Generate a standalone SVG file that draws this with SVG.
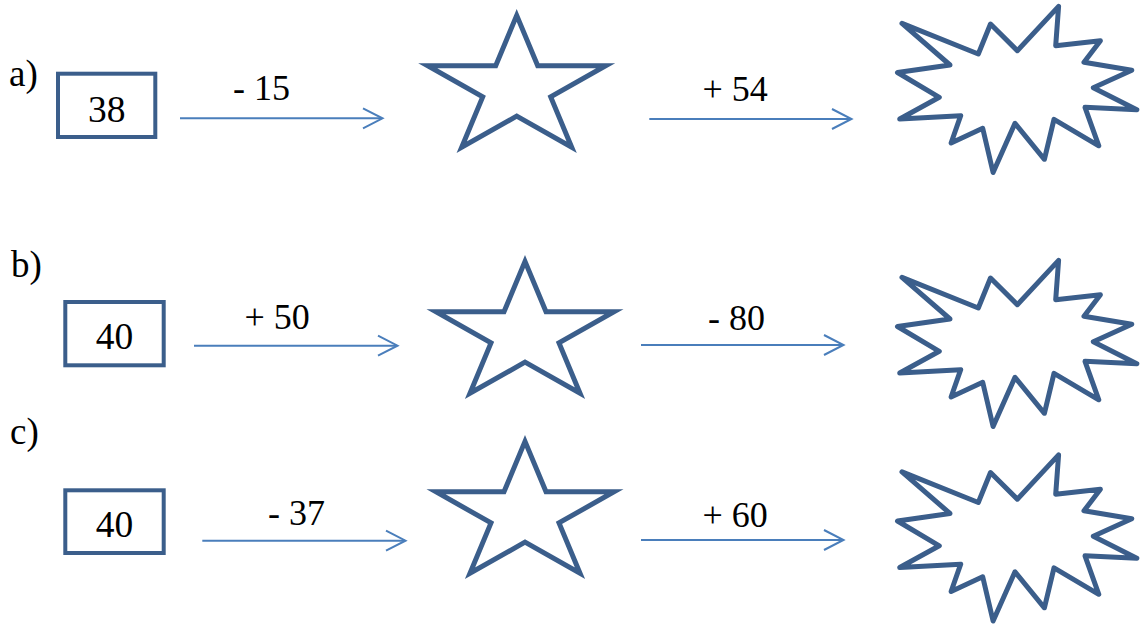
<svg xmlns="http://www.w3.org/2000/svg" width="1143" height="627" viewBox="0 0 1143 627">
<style>
  text{font-family:'Liberation Serif','Times New Roman',Times,serif;fill:#000}
  .lbl{font-size:37px}
  .num{font-size:37.5px}
  .op{font-size:36px}
  .box{fill:#fff;stroke:#3b5e8b;stroke-width:4}
  .shape{fill:#fff;stroke:#3b5e8b;stroke-width:5}
  .conn line{stroke:#4a7ebb;stroke-width:2}
  .conn path{fill:none;stroke:#4a7ebb;stroke-width:2}
</style>
<defs>
  <path id="star" d="M0,-72.9 L21,-22.5 L89,-22.5 L34,8.6 L55,59 L0,27.85 L-55,59 L-34,8.6 L-89,-22.5 L-21,-22.5 Z" class="shape" stroke-linejoin="miter"/>
  <path id="boom" class="shape" stroke-linejoin="round" d="M902,23.4 L978.3,54 L990.5,24 L1017.3,50.7 L1058.6,6.4 L1055.7,45.7 L1100.4,40.7 L1084,62.3 L1131.8,70.2 L1093.3,87.7 L1136.8,109.8 L1085,107.3 L1098.8,145.8 L1054,119.3 L1044.4,159.3 L1015,123.3 L993.1,172.5 L982.7,128.3 L951.1,143 L960.7,115.7 L899.7,119 L939.3,97.3 L897.5,72.5 L950,65 Z"/>
</defs>

<g id="row-a">
  <text class="lbl" x="9" y="86">a)</text>
  <g id="box-a"><rect class="box" x="58" y="73.7" width="97.3" height="63.3"/><text class="num" x="106.7" y="121.5" text-anchor="middle">38</text></g>
  <g id="star-a"><use href="#star" transform="translate(516.7,88.3)"/></g>
  <g id="boom-a"><use href="#boom"/></g>
  <text class="op" x="233" y="100">- 15</text>
  <text class="op" x="702.5" y="100.5">+ 54</text>
</g>

<g id="row-b">
  <text class="lbl" x="11" y="277">b)</text>
  <g id="box-b"><rect class="box" x="65.3" y="302" width="98.4" height="63.3"/><text class="num" x="114.5" y="349.3" text-anchor="middle">40</text></g>
  <g id="star-b"><use href="#star" transform="translate(525,334.3)"/></g>
  <g id="boom-b"><use href="#boom" transform="translate(0,254)"/></g>
  <text class="op" x="244.5" y="329">+ 50</text>
  <text class="op" x="708" y="330">- 80</text>
</g>

<g id="row-c">
  <text class="lbl" x="10" y="444">c)</text>
  <g id="box-c"><rect class="box" x="65.3" y="490.3" width="98.4" height="62.7"/><text class="num" x="114.5" y="536.7" text-anchor="middle">40</text></g>
  <g id="star-c"><use href="#star" transform="translate(525,514.3)"/></g>
  <g id="boom-c"><use href="#boom" transform="translate(0,448.5)"/></g>
  <text class="op" x="268" y="525">- 37</text>
  <text class="op" x="702.5" y="527">+ 60</text>
</g>

<g id="connectors" class="conn">
  <line x1="180" y1="118.3" x2="382" y2="118.3"/><path d="M363,108.3 L382.5,118.3 L363,128.3"/>
  <line x1="649.3" y1="119" x2="851" y2="119"/><path d="M832,109 L851.5,119 L832,129"/>
  <line x1="194" y1="345.7" x2="397" y2="345.7"/><path d="M378,335.7 L397.5,345.7 L378,355.7"/>
  <line x1="641" y1="345" x2="843" y2="345"/><path d="M824,335 L843.5,345 L824,355"/>
  <line x1="202.3" y1="540.7" x2="405" y2="540.7"/><path d="M386,530.7 L405.5,540.7 L386,550.7"/>
  <line x1="641" y1="540" x2="843" y2="540"/><path d="M824,530 L843.5,540 L824,550"/>
</g>
</svg>
